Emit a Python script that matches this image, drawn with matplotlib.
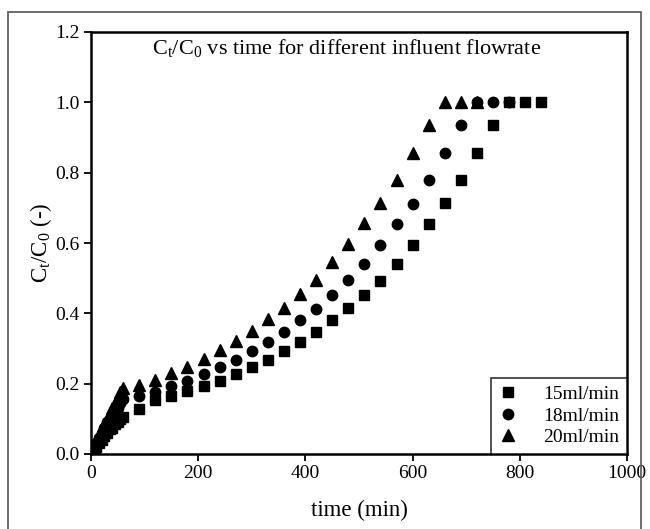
import matplotlib.pyplot as plt
from matplotlib.patches import Rectangle

plt.rcParams['font.family'] = ['Liberation Serif', 'DejaVu Serif']
plt.rcParams['mathtext.fontset'] = 'custom'
plt.rcParams['mathtext.rm'] = 'Liberation Serif'
plt.rcParams['mathtext.it'] = 'Liberation Serif'

# breakthrough data
t_early = [0, 5, 10, 15, 20, 25, 30, 35, 40, 45, 50, 55]
t15 = t_early + [60, 90, 120, 150, 180, 210, 240, 270, 300, 330, 360, 390, 420, 450,
                 480, 510, 540, 570, 600, 630, 660, 690, 720, 750, 780, 810, 840]
c15 = [0.0, 0.01, 0.02, 0.03, 0.04, 0.05, 0.06, 0.07, 0.075, 0.085, 0.09, 0.10,
       0.106, 0.127, 0.154, 0.166, 0.180, 0.193, 0.208, 0.227, 0.247, 0.267, 0.294, 0.319,
       0.346, 0.381, 0.414, 0.452, 0.493, 0.540, 0.594, 0.653, 0.713, 0.779, 0.855, 0.935,
       1.0, 1.0, 1.0]
t18 = t_early + [60, 90, 120, 150, 180, 210, 240, 270, 300, 330, 360, 390, 420, 450,
                 480, 510, 540, 570, 600, 630, 660, 690, 720, 750, 780]
c18 = [0.0, 0.015, 0.03, 0.045, 0.06, 0.075, 0.09, 0.10, 0.11, 0.12, 0.13, 0.145,
       0.155, 0.166, 0.177, 0.193, 0.208, 0.227, 0.247, 0.267, 0.294, 0.319, 0.346, 0.380,
       0.413, 0.452, 0.495, 0.540, 0.594, 0.653, 0.711, 0.779, 0.855, 0.935, 1.0, 1.0, 1.0]
t20 = t_early + [60, 90, 120, 150, 180, 210, 240, 270, 300, 330, 360, 390, 420, 450,
                 480, 510, 540, 570, 600, 630, 660, 690, 720]
c20 = [0.0, 0.02, 0.04, 0.055, 0.07, 0.085, 0.10, 0.115, 0.13, 0.145, 0.16, 0.175,
       0.187, 0.197, 0.210, 0.229, 0.248, 0.269, 0.296, 0.321, 0.350, 0.383, 0.414, 0.455,
       0.495, 0.545, 0.596, 0.656, 0.714, 0.779, 0.855, 0.935, 1.0, 1.0, 1.0]

fig = plt.figure(figsize=(6.5, 5.29), dpi=100)
fig.patches.append(Rectangle((8/650, -0.1), 633/650, 1.1 - 12/529, transform=fig.transFigure,
                             fill=False, edgecolor='#555555', linewidth=1.2))
ax = fig.add_axes([91/650, 1 - 454/529, 536/650, 422/529])

ax.plot(t15, c15, 's', color='black', ms=6.5, label='15ml/min')
ax.plot(t18, c18, 'o', color='black', ms=7.5, label='18ml/min')
ax.plot(t20, c20, '^', color='black', ms=8, label='20ml/min')

ax.set_xlim(0, 1000)
ax.set_ylim(0, 1.2)
ax.set_xticks([0, 200, 400, 600, 800, 1000])
ax.set_yticks([0.0, 0.2, 0.4, 0.6, 0.8, 1.0, 1.2])
ax.set_yticklabels(['0.0', '0.2', '0.4', '0.6', '0.8', '1.0', '1.2'])
ax.tick_params(direction='out', length=5, width=1.3, labelsize=14, colors='black', pad=3)
for s in ax.spines.values():
    s.set_linewidth(1.8)

ax.set_xlabel('time (min)', fontsize=16.5, labelpad=13)
ax.set_ylabel(r'C$_\mathregular{t}$/C$_\mathregular{0}$ (-)', fontsize=16.5, labelpad=1)
ax.text(0.476, 0.962, r'C$_\mathregular{t}$/C$_\mathregular{0}$ vs time for different influent flowrate',
        transform=ax.transAxes, ha='center', va='center', fontsize=16)

leg = ax.legend(loc='lower right', fontsize=14, frameon=True, fancybox=False,
                edgecolor='black', borderaxespad=0, handlelength=1.0, handletextpad=1.3,
                labelspacing=0.2, borderpad=0.4)
leg.get_frame().set_linewidth(1.2)

fig.savefig('out.png', dpi=100)
